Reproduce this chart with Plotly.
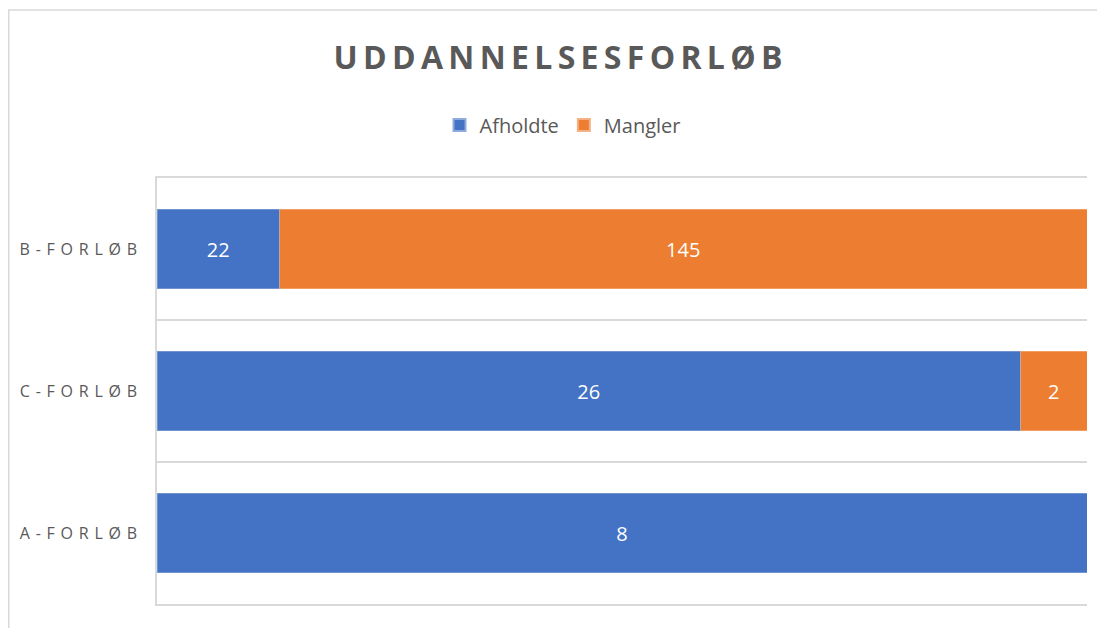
import plotly.graph_objects as go

categories = ["A-FORLØB", "C-FORLØB", "B-FORLØB"]
afholdte = [8, 26, 22]
mangler = [None, 2, 145]
series_names = ["Afholdte", "Mangler"]
title_text = "UDDANNELSESFORLØB"

BLUE = "#4472C4"
ORANGE = "#ED7D31"
GRAY = "#595959"
GRID = "#D9D9D9"

W, H = 1097, 620  # page body has an 8px margin
L, R, T, B = 149, 18, 170, 24

def spaced(s, sep):
    return sep.join(list(s))

fig = go.Figure()
fig.add_trace(go.Bar(
    y=categories, x=afholdte, name=series_names[0], orientation="h",
    marker=dict(color=BLUE, line=dict(color="#8FAADC", width=0.6)),
    text=afholdte, texttemplate="%{text}", textposition="inside",
    insidetextanchor="middle",
    textfont=dict(color="white", size=20, family="Open Sans"),
    hoverinfo="skip",
))
fig.add_trace(go.Bar(
    y=categories, x=mangler, name=series_names[1], orientation="h",
    marker=dict(color=ORANGE, line=dict(color="#F4B183", width=0.6)),
    text=mangler, texttemplate="%{text}", textposition="inside",
    insidetextanchor="middle",
    textfont=dict(color="white", size=20, family="Open Sans"),
    hoverinfo="skip",
))

fig.update_layout(
    width=W, height=H,
    barmode="stack", barnorm="percent", bargap=0.437,
    paper_bgcolor="white", plot_bgcolor="white",
    margin=dict(l=L, r=R, t=T, b=B),
    font=dict(family="Open Sans", color=GRAY),
    title=dict(
        text=spaced(title_text, "\u2009"),
        x=550 / W, xref="container", xanchor="center",
        y=1 - 50 / H, yref="container", yanchor="middle",
        font=dict(size=32, color=GRAY, family="Open Sans", weight="bold"),
    ),
    legend=dict(
        orientation="h", x=555 / W, xref="container", xanchor="center",
        y=1 - 117 / H, yref="container", yanchor="middle",
        font=dict(size=20, color=GRAY, family="Open Sans"),
        itemsizing="constant", traceorder="normal", itemwidth=30,
    ),
    showlegend=True,
    xaxis=dict(
        range=[0, 100], showticklabels=False, showgrid=False,
        zeroline=False, showline=True, mirror=True, linecolor=GRID, linewidth=1.5,
        ticks="", fixedrange=True,
    ),
    yaxis=dict(
        categoryorder="array", categoryarray=categories,
        tickson="boundaries", showgrid=True, gridcolor=GRID, gridwidth=1.5,
        showline=True, linecolor=GRID, linewidth=1.5,
        ticks="", ticklabelstandoff=15,
        tickvals=categories,
        ticktext=[spaced(c, " \u200a") for c in categories],
        tickfont=dict(size=16, color=GRAY, family="Open Sans"),
        zeroline=False,
    ),
    uniformtext=dict(minsize=8, mode="show"),
)

plot_w = W - L - R
plot_h = H - T - B
fig.add_shape(
    type="rect", xref="paper", yref="paper",
    x0=(0.75 - L) / plot_w, x1=1.2, y0=-0.2, y1=(plot_h + T - 2) / plot_h,
    line=dict(color=GRID, width=1.5), fillcolor="rgba(0,0,0,0)", layer="below",
)

fig.write_html("out.html")
